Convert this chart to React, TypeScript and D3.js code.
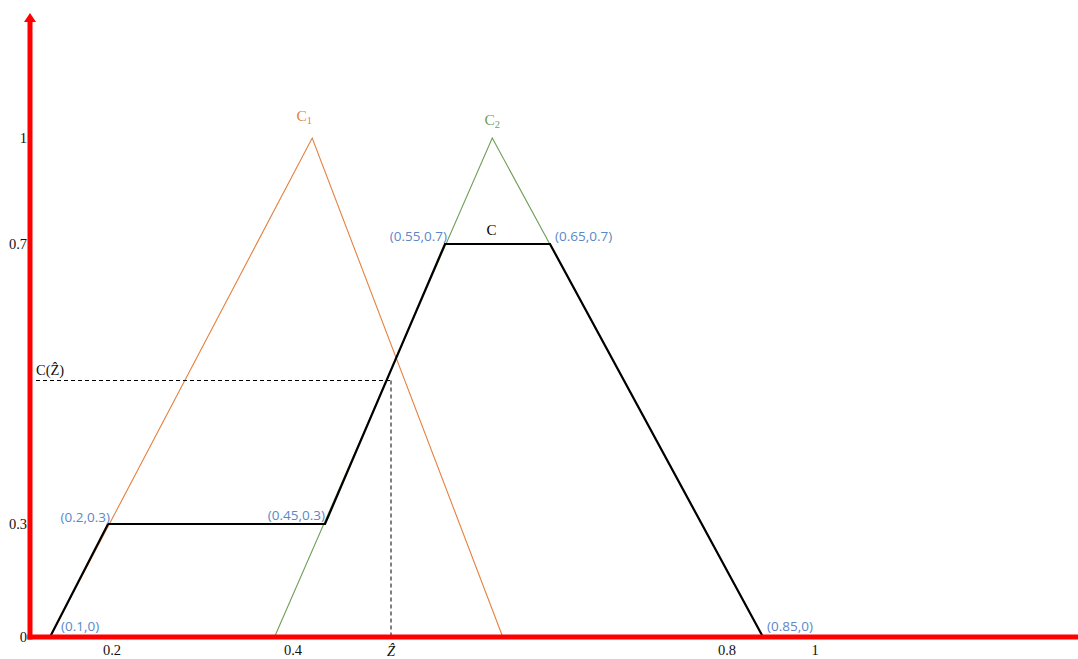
import React from "react";
import * as d3 from "d3";

// Diagram (hand-drawn, non-uniform axes) — breakpoints of the axis scales
const xBreaks = [0, 0.1, 0.2, 0.4, 0.45, 0.55, 0.65, 0.8, 0.85, 1, 1.3];
const xPixels = [30, 50, 108, 293, 325, 445, 550, 727, 763, 815, 1078];
const yBreaks = [0, 0.3, 0.7, 1, 1.25];
const yPixels = [637, 524, 244, 138, 13];

// Membership functions
const c1Points: [number, number][] = [[0.1, 0], [0.43, 1], [0.605, 0]];
const c2Points: [number, number][] = [[0.38, 0], [0.595, 1], [0.85, 0]];
const cPoints: [number, number][] = [[0.1, 0], [0.2, 0.3], [0.45, 0.3], [0.55, 0.7], [0.65, 0.7], [0.85, 0]];
const pointLabels = ["(0.1,0)", "(0.2,0.3)", "(0.45,0.3)", "(0.55,0.7)", "(0.65,0.7)", "(0.85,0)"];
const zHat = 0.505;
const cZ = 0.505;
const dashStartX = 0.03;

const xTicks = [0.2, 0.4, 0.8, 1];
const xTickLabels = ["0.2", "0.4", "0.8", "1"];
const yTicks = [0, 0.3, 0.7, 1];
const yTickLabels = ["0", "0.3", "0.7", "1"];

export default function App() {
  const x = d3.scaleLinear().domain(xBreaks).range(xPixels);
  const y = d3.scaleLinear().domain(yBreaks).range(yPixels);
  const line = d3.line<[number, number]>().x(d => x(d[0])).y(d => y(d[1]));

  const serif = "'Liberation Serif', 'DejaVu Serif', serif";
  const sans = "'Open Sans', 'Liberation Sans', sans-serif";
  const blue = "#5b87c8";
  const orange = "#e5813f";
  const green = "#6f9f58";

  const labelPos: { anchor: "start" | "end"; dx: number; dy: number }[] = [
    { anchor: "start", dx: 11, dy: -6 },
    { anchor: "end", dx: 2, dy: -2 },
    { anchor: "end", dx: 0, dy: -4 },
    { anchor: "end", dx: 2, dy: -3 },
    { anchor: "start", dx: 5, dy: -3 },
    { anchor: "start", dx: 4, dy: -6 },
  ];

  const x0 = x(0);
  const y0 = y(0);
  const yTop = y(1.25);
  const xEnd = x(1.3);

  return (
    <svg
      width={1078}
      height={659}
      style={{ position: "absolute", left: 0, top: 0, background: "#fff" }}
    >
      <path d={line(c1Points) || ""} fill="none" stroke={orange} strokeWidth={1.1} />
      <path d={line(c2Points) || ""} fill="none" stroke={green} strokeWidth={1.1} />
      <path d={line(cPoints) || ""} fill="none" stroke="#000" strokeWidth={2.2} />

      <line x1={x(dashStartX)} y1={y(cZ)} x2={x(zHat)} y2={y(cZ)} stroke="#000" strokeWidth={1} strokeDasharray="4,3" />
      <line x1={x(zHat)} y1={y(cZ)} x2={x(zHat)} y2={y0} stroke="#000" strokeWidth={1} strokeDasharray="4,3" />

      <line x1={x0} y1={y0 + 2.5} x2={x0} y2={yTop + 8} stroke="#ff0000" strokeWidth={5} />
      <path d={`M${x0 - 6},${yTop + 9} L${x0},${yTop} L${x0 + 6},${yTop + 9} Z`} fill="#ff0000" />
      <line x1={x0 - 2.5} y1={y0} x2={xEnd} y2={y0} stroke="#ff0000" strokeWidth={5} />

      {yTicks.map((t, i) => (
        <text key={"y" + i} x={x0 - 3} y={y(t) + 5} textAnchor="end" fontFamily={serif} fontSize={14.5} fill="#111">
          {yTickLabels[i]}
        </text>
      ))}
      {xTicks.map((t, i) => (
        <text key={"x" + i} x={x(t) + (i === 0 ? 4 : 0)} y={y0 + 18} textAnchor="middle" fontFamily={serif} fontSize={14.5} fill="#111">
          {xTickLabels[i]}
        </text>
      ))}
      <text x={x(zHat)} y={y0 + 19} textAnchor="middle" fontFamily={serif} fontSize={14.5} fontStyle="italic" fill="#111">
        Ẑ
      </text>
      <text x={x(dashStartX)} y={y(cZ) - 6} fontFamily={serif} fontSize={14.5} fill="#111">
        C(Ẑ)
      </text>

      <text x={x(0.43) - 8} y={y(1) - 17} textAnchor="middle" fontFamily={serif} fontSize={15.5} fill={orange}>
        C<tspan fontSize={10.5} dy={3}>1</tspan>
      </text>
      <text x={x(0.595)} y={y(1) - 13} textAnchor="middle" fontFamily={serif} fontSize={15.5} fill={green}>
        C<tspan fontSize={10.5} dy={3}>2</tspan>
      </text>
      <text x={(x(0.55) + x(0.65)) / 2 - 6} y={y(0.7) - 9} textAnchor="middle" fontFamily={serif} fontSize={15} fill="#000">
        C
      </text>

      {cPoints.map((p, i) => (
        <text
          key={"p" + i}
          x={x(p[0]) + labelPos[i].dx}
          y={y(p[1]) + labelPos[i].dy}
          textAnchor={labelPos[i].anchor}
          fontFamily={sans}
          fontSize={13.5}
          fill={blue}
        >
          {pointLabels[i]}
        </text>
      ))}
    </svg>
  );
}
